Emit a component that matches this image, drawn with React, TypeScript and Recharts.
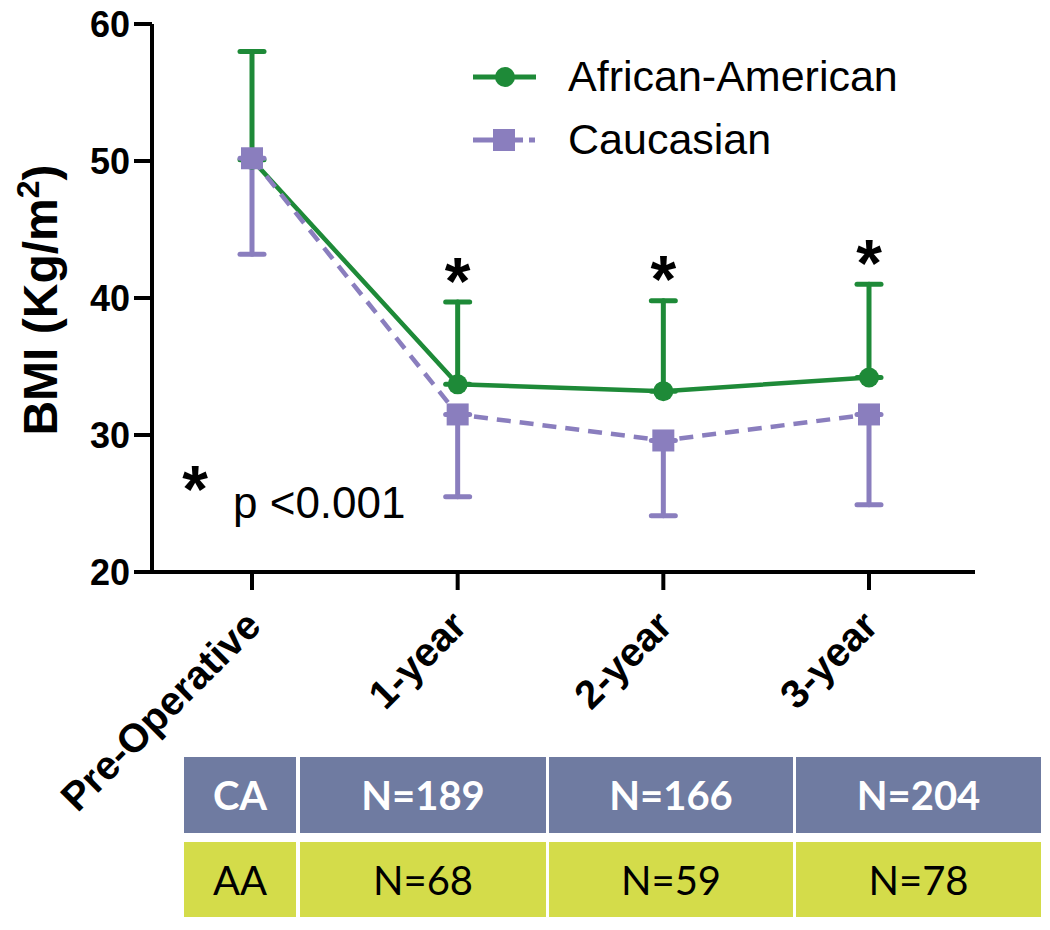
import React from 'react';
import { LineChart, Line, XAxis, YAxis, ErrorBar, LabelList, Legend } from 'recharts';

const categories = ['Pre-Operative', '1-year', '2-year', '3-year'];
const aaMean = [50.1, 33.7, 33.2, 34.2];
const aaSdUp = [7.9, 6.0, 6.6, 6.8];
const caMean = [50.2, 31.5, 29.6, 31.5];
const caSdDown = [7.0, 6.0, 5.5, 6.6];
const significant = [false, true, true, true];
const yTicks = [20, 30, 40, 50, 60];
const caCounts = [189, 166, 204];
const aaCounts = [68, 59, 78];

const GREEN = '#1E8A38';
const LAVENDER = '#8A7EBE';
const FONT = '"Liberation Sans", Arial, Helvetica, sans-serif';

const data = categories.map((name, i) => ({
  name,
  aa: aaMean[i],
  aaErr: [0, aaSdUp[i]],
  ca: caMean[i],
  caErr: [caSdDown[i], 0],
  // asterisk sits a little above the top of the AA whisker
  star: significant[i] ? aaMean[i] + aaSdUp[i] + 2.5 : null,
}));

const XTick = ({ x, y, payload }: any) => (
  <g transform={`translate(${x + 11},${y + 36})`}>
    <text
      transform="rotate(-45)"
      textAnchor="end"
      fontFamily={FONT}
      fontWeight="bold"
      fontSize={40}
      fill="#000"
    >
      {payload.value}
    </text>
  </g>
);

const StarLabel = ({ x, y, value }: any) => {
  if (value == null || x == null || y == null) return null;
  return (
    <text x={x} y={y + 36} textAnchor="middle" fontFamily={FONT} fontWeight="bold" fontSize={66} fill="#000">
      *
    </text>
  );
};

const SquareDot = ({ cx, cy, index }: any) => (
  <rect key={`sq-${index}`} x={cx - 11} y={cy - 11} width={22} height={22} fill={LAVENDER} />
);

const LegendBox = () => (
  <div style={{ fontFamily: FONT, fontSize: 43, color: '#000' }}>
    <div style={{ display: 'flex', alignItems: 'center', height: 63 }}>
      <svg width={95} height={30}>
        <line x1={0} y1={15} x2={63} y2={15} stroke={GREEN} strokeWidth={5} />
        <circle cx={32} cy={15} r={10} fill={GREEN} />
      </svg>
      <span>African-American</span>
    </div>
    <div style={{ display: 'flex', alignItems: 'center', height: 63 }}>
      <svg width={95} height={30}>
        <line x1={0} y1={15} x2={50} y2={15} stroke={LAVENDER} strokeWidth={5} />
        <line x1={56} y1={15} x2={62} y2={15} stroke={LAVENDER} strokeWidth={5} />
        <rect x={20} y={4} width={22} height={22} fill={LAVENDER} />
      </svg>
      <span>Caucasian</span>
    </div>
  </div>
);

const cellBase: React.CSSProperties = {
  position: 'absolute',
  display: 'flex',
  alignItems: 'center',
  justifyContent: 'center',
  fontFamily: 'Lato, "Open Sans", sans-serif',
  fontSize: 40,
};

const colLeft = [300, 549, 796];
const colWidth = [246, 244, 245];

export default function App() {
  return (
    <div style={{ position: 'absolute', left: 0, top: 0, width: 1050, height: 930, background: '#fff' }}>
      <LineChart width={1050} height={930} data={data} margin={{ top: 24, right: 75, bottom: 158, left: 0 }}>
        <XAxis
          dataKey="name"
          height={200}
          padding={{ left: 100, right: 106 }}
          axisLine={{ stroke: '#000', strokeWidth: 4 }}
          tickLine={{ stroke: '#000', strokeWidth: 4 }}
          tickSize={18}
          tick={<XTick />}
          interval={0}
        />
        <YAxis
          width={152}
          domain={[20, 60]}
          ticks={yTicks}
          axisLine={{ stroke: '#000', strokeWidth: 4 }}
          tickLine={{ stroke: '#000', strokeWidth: 4 }}
          tickSize={18}
          tickMargin={4}
          tick={{ fill: '#000', fontSize: 36, fontWeight: 'bold', fontFamily: FONT }}
        />
        <Legend
          layout="vertical"
          align="center"
          verticalAlign="middle"
          wrapperStyle={{ top: 45, left: 473, width: 520 }}
          content={<LegendBox />}
        />
        <Line
          dataKey="aa"
          name="African-American"
          stroke={GREEN}
          strokeWidth={4.5}
          dot={{ r: 10, fill: GREEN, stroke: GREEN, strokeWidth: 0 }}
          activeDot={false}
          isAnimationActive={false}
        >
          <ErrorBar dataKey="aaErr" direction="y" width={12} stroke={GREEN} strokeWidth={5} strokeLinecap="round" isAnimationActive={false} />
        </Line>
        <Line
          dataKey="ca"
          name="Caucasian"
          stroke={LAVENDER}
          strokeWidth={4.5}
          strokeDasharray="14 9"
          dot={<SquareDot />}
          activeDot={false}
          isAnimationActive={false}
        >
          <ErrorBar dataKey="caErr" direction="y" width={12} stroke={LAVENDER} strokeWidth={5} strokeLinecap="round" isAnimationActive={false} />
        </Line>
        <Line dataKey="star" stroke="none" dot={false} activeDot={false} legendType="none" isAnimationActive={false}>
          <LabelList dataKey="star" content={<StarLabel />} />
        </Line>
      </LineChart>

      <svg width={1050} height={930} style={{ position: 'absolute', left: 0, top: 0, pointerEvents: 'none' }}>
        <text
          transform="translate(57,300) rotate(-90)"
          textAnchor="middle"
          fontFamily={FONT}
          fontWeight="bold"
          fontSize={48}
          fill="#000"
        >
          BMI (Kg/m<tspan dy={-18} fontSize={32}>2</tspan><tspan dy={18}>)</tspan>
        </text>
        <text x={195} y={512} textAnchor="middle" fontFamily={FONT} fontWeight="bold" fontSize={66} fill="#000">*</text>
        <text x={233} y={518} fontFamily={FONT} fontSize={44} fill="#000">p &lt;0.001</text>
      </svg>

      <div style={{ ...cellBase, left: 184, top: 757, width: 112, height: 76, background: '#6F7BA1', color: '#fff', fontWeight: 'bold' }}>CA</div>
      <div style={{ ...cellBase, left: 184, top: 842, width: 112, height: 75, background: '#D4DC4A', color: '#000' }}>AA</div>
      {caCounts.map((n, i) => (
        <div key={`ca${i}`} style={{ ...cellBase, left: colLeft[i], top: 757, width: colWidth[i], height: 76, background: '#6F7BA1', color: '#fff', fontWeight: 'bold' }}>
          N={n}
        </div>
      ))}
      {aaCounts.map((n, i) => (
        <div key={`aa${i}`} style={{ ...cellBase, left: colLeft[i], top: 842, width: colWidth[i], height: 75, background: '#D4DC4A', color: '#000' }}>
          N={n}
        </div>
      ))}
    </div>
  );
}
